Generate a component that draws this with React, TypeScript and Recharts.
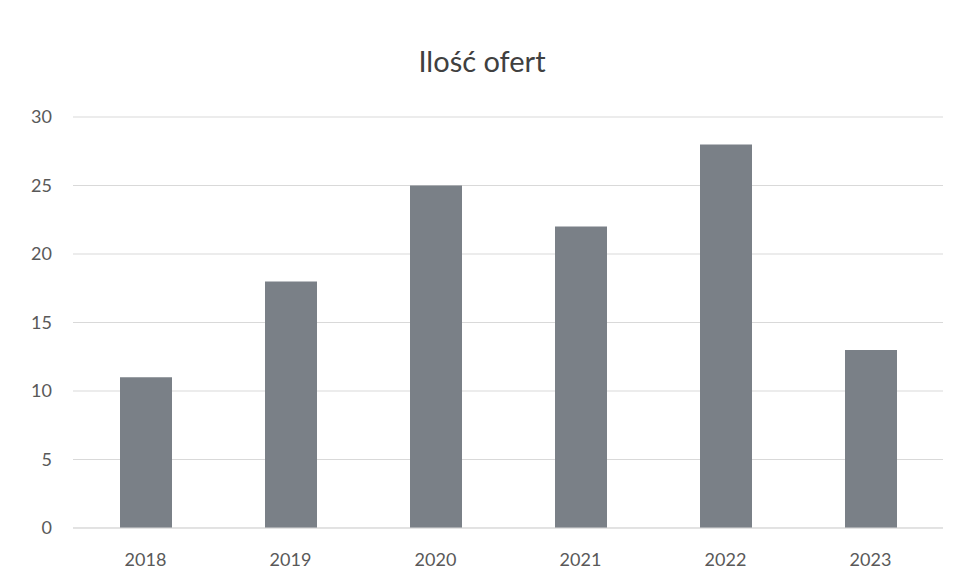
import { BarChart, Bar, XAxis, YAxis, CartesianGrid } from "recharts";

const years = ["2018", "2019", "2020", "2021", "2022", "2023"];
const offers = [11, 18, 25, 22, 28, 13];
const yTicks = [0, 5, 10, 15, 20, 25, 30];

const data = years.map((year, i) => ({ year, value: offers[i] }));

export default function App() {
  return (
    <div
      style={{
        position: "absolute",
        left: 0,
        top: 0,
        width: 964,
        height: 587,
        background: "#fff",
        fontFamily: "Lato, 'Open Sans', sans-serif",
      }}
    >
      <div
        style={{
          position: "absolute",
          top: 43,
          width: 964,
          textAlign: "center",
          fontSize: 29,
          color: "#404040",
        }}
      >
        Ilość ofert
      </div>
      <BarChart
        width={964}
        height={587}
        data={data}
        margin={{ top: 117, right: 21, bottom: 0, left: 0 }}
        barSize={52}
      >
        <CartesianGrid vertical={false} stroke="#d9d9d9" />
        <XAxis
          dataKey="year"
          height={59}
          axisLine={{ stroke: "#d9d9d9" }}
          tickLine={false}
          tickSize={0}
          tickMargin={25}
          tick={{ fill: "#595959", fontSize: 18 }}
        />
        <YAxis
          width={73}
          domain={[0, 30]}
          ticks={yTicks}
          axisLine={false}
          tickLine={false}
          tickSize={0}
          tickMargin={21}
          tick={{ fill: "#595959", fontSize: 18 }}
        />
        <Bar dataKey="value" fill="#7a8087" isAnimationActive={false} />
      </BarChart>
    </div>
  );
}
